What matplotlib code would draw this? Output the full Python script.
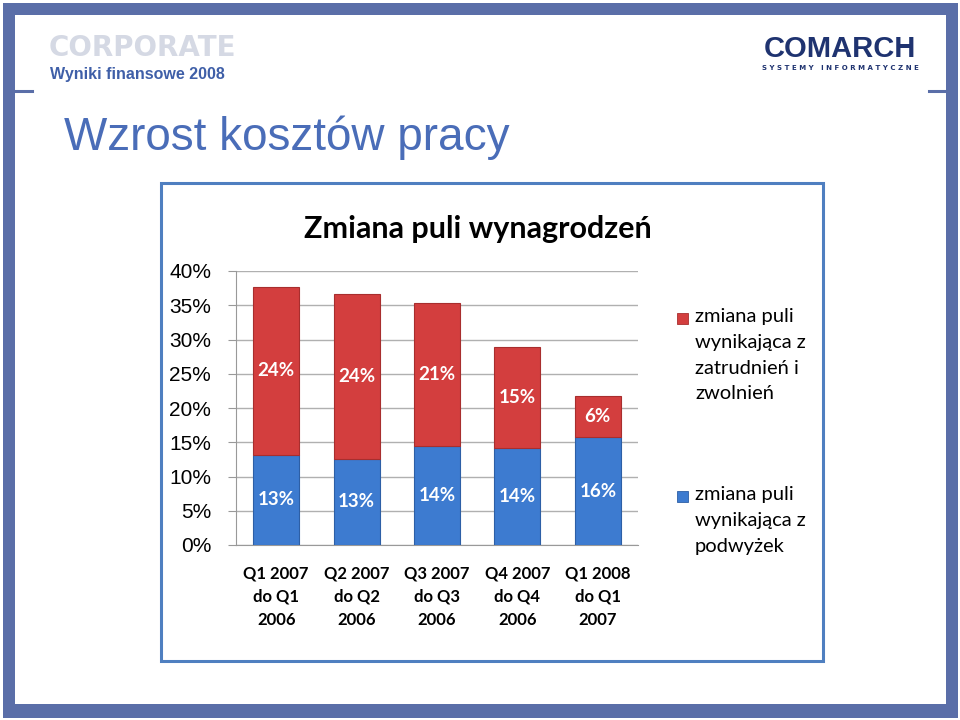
import matplotlib
matplotlib.use("Agg")
import matplotlib.pyplot as plt
from matplotlib.patches import Rectangle
from matplotlib.lines import Line2D

# ---- data ----
categories = ["Q1 2007\ndo Q1\n2006", "Q2 2007\ndo Q2\n2006", "Q3 2007\ndo Q3\n2006",
              "Q4 2007\ndo Q4\n2006", "Q1 2008\ndo Q1\n2007"]
raises = [13.2, 12.6, 14.5, 14.1, 15.7]          # zmiana puli wynikająca z podwyżek
headcount = [24.5, 24.1, 20.9, 14.8, 6.1]         # zmiana puli wynikająca z zatrudnień i zwolnień
raises_labels = ["13%", "13%", "14%", "14%", "16%"]
headcount_labels = ["24%", "24%", "21%", "15%", "6%"]
yticks = [0, 5, 10, 15, 20, 25, 30, 35, 40]
legend_red = "zmiana puli\nwynikająca z\nzatrudnień i\nzwolnień"
legend_blue = "zmiana puli\nwynikająca z\npodwyżek"

W, H = 960, 720
fig = plt.figure(figsize=(9.6, 7.2), dpi=100)
fig.patch.set_facecolor("white")

def fx(x):
    return x / W

def fy(y):
    return 1 - y / H

FRAME = "#5A6EA8"
# page frame bands
for (x0, y0, x1, y1) in [(3, 3, 958, 15), (3, 3, 15, 718), (946, 3, 958, 718), (3, 704, 958, 718)]:
    fig.add_artist(Rectangle((fx(x0), fy(y1)), fx(x1 - x0), (y1 - y0) / H,
                             transform=fig.transFigure, facecolor=FRAME, edgecolor="none"))
fig.add_artist(Line2D([fx(15), fx(32)], [fy(91), fy(91)], transform=fig.transFigure, color=FRAME, lw=2.2))
fig.add_artist(Line2D([fx(929), fx(946)], [fy(91), fy(91)], transform=fig.transFigure, color=FRAME, lw=2.2))

# header texts
fig.text(fx(49), fy(48), "CORPORATE", fontsize=20, fontweight="heavy", color="#D5D9E4",
         family="DejaVu Sans", va="center", ha="left")
fig.text(fx(50), fy(74), "Wyniki finansowe 2008", fontsize=11.5, fontweight="bold", color="#3F5FA8",
         family="Liberation Sans", va="center", ha="left")
fig.text(fx(64), fy(138), "Wzrost kosztów pracy", fontsize=33, color="#4A6DB8",
         family="Liberation Sans", va="center", ha="left")
fig.text(fx(840), fy(49), "COMARCH", fontsize=21, fontweight="bold", color="#1F3370",
         family="Liberation Sans", va="center", ha="center")
fig.text(fx(840), fy(68), "S Y S T E M Y   I N F O R M A T Y C Z N E", fontsize=5.0, fontweight="bold",
         color="#1F3370", family="DejaVu Sans", va="center", ha="center")

# chart frame
fig.add_artist(Rectangle((fx(161), fy(661)), fx(823 - 161), (661 - 183) / H, transform=fig.transFigure,
                         facecolor="none", edgecolor="#4F7FC0", lw=2.2, zorder=0))

fig.text(fx(478), fy(229), "Zmiana puli wynagrodzeń", fontsize=22, fontweight="bold", color="black",
         family="Lato", va="center", ha="center")

ax = fig.add_axes([fx(236), fy(545), fx(402), 274 / H])
ax.set_facecolor("none")
ax.set_zorder(2)
x = list(range(len(categories)))
BLUE = "#3D7BD0"
RED = "#D33E3E"
b1 = ax.bar(x, raises, width=0.57, color=BLUE, edgecolor="#2D5FA6", lw=0.8, zorder=3)
b2 = ax.bar(x, headcount, width=0.57, bottom=raises, color=RED, edgecolor="#A82E2E", lw=0.8, zorder=3)

for i in x:
    ax.text(i, raises[i] / 2, raises_labels[i], ha="center", va="center", color="white",
            fontsize=13.5, fontweight="bold", family="Lato", zorder=4)
    ax.text(i, raises[i] + headcount[i] / 2, headcount_labels[i], ha="center", va="center", color="white",
            fontsize=13.5, fontweight="bold", family="Lato", zorder=4)

ax.set_xlim(-0.5, 4.5)
ax.set_ylim(0, 40)
ax.set_yticks(yticks)
ax.set_yticklabels([f"{t}%" for t in yticks], fontsize=15, family="Liberation Sans")
ax.set_xticks(x)
ax.set_xticklabels(categories, fontsize=12, fontweight="bold", family="Lato", linespacing=1.55)
ax.tick_params(axis="x", length=0, pad=15)
ax.tick_params(axis="y", length=6, color="#999999", direction="out", pad=12)
ax.yaxis.grid(True, color="#B0B0B0", lw=1, zorder=0)
ax.set_axisbelow(True)
for s in ["top", "right"]:
    ax.spines[s].set_visible(False)
ax.spines["left"].set_color("#999999")
ax.spines["bottom"].set_color("#999999")

# legend (manual)
fig.add_artist(Rectangle((fx(677), fy(324)), fx(11), 11 / H, transform=fig.transFigure,
                         facecolor=RED, edgecolor="#A82E2E", lw=0.6))
fig.text(fx(695), fy(308), legend_red, fontsize=14.5, family="Lato", va="top", ha="left",
         linespacing=1.63, color="black")
fig.add_artist(Rectangle((fx(677), fy(502)), fx(11), 11 / H, transform=fig.transFigure,
                         facecolor=BLUE, edgecolor="#2D5FA6", lw=0.6))
fig.text(fx(695), fy(486), legend_blue, fontsize=14.5, family="Lato", va="top", ha="left",
         linespacing=1.63, color="black")

fig.savefig("out.png", dpi=100, facecolor="white")
